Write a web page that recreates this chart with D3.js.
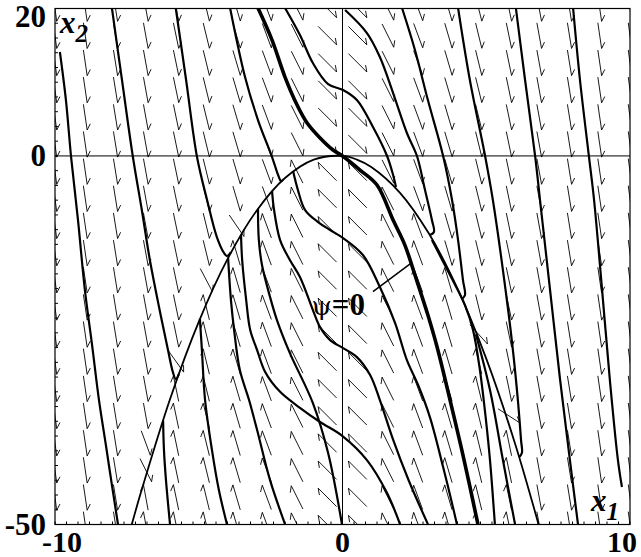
<!DOCTYPE html>
<meta charset="utf-8">
<style>
    body { margin: 0; background: #fff; }
    text { font-family: "Liberation Serif", "DejaVu Serif", serif; fill: #000; }
</style>
<svg width="641" height="557"></svg>
<script src="https://d3js.org/d3.v7.min.js"></script>
<script>
    // axis ranges and labels
    var x1Domain = [-10, 10];
    var x2Domain = [-50, 20];
    var x1Labels = [-10, 0, 10];
    var x2Labels = [20, 0, -50];

    // psi = 0 curve
    var psiCurve = [[-7.33, -50], [-7, -45.5], [-6, -33], [-5, -22.5], [-4, -14], [-3, -7.5], [-2, -3],
        [-1, -0.5], [0, 0], [0.5, -0.5], [1, -1.5], [2, -5], [3, -10.5], [4, -18], [5, -27.5], [6, -39], [6.82, -50]];

    // direction field grid
    var fieldX1 = [-10, -8.947, -7.895, -6.842, -5.789, -4.737, -3.684, -2.632, -1.579, -0.526,
        0.526, 1.579, 2.632, 3.684, 4.737, 5.789, 6.842, 7.895, 8.947, 10];
    var fieldX2 = [-50, -46.32, -42.63, -38.95, -35.26, -31.58, -27.89, -24.21, -20.53, -16.84,
        -13.16, -9.47, -5.79, -2.11, 1.58, 5.26, 8.95, 12.63, 16.32, 20];
    // steepness of the arrows in each column (screen dy/dx)
    var fieldSteep = [7.5, 6.8, 6.2, 5.5, 4.8, 4.1, 3.4, 2.7, 2.0, 1.0, 1.0, 2.0, 2.7, 3.4, 4.1, 4.8, 5.5, 6.2, 6.8, 7.5];
    // arrows next to psi = 0 that turn flatter: [column, row, steepness]
    var fieldFlat = [[3, 2, 2.0], [3, 3, 2.7], [4, 6, 1.4], [5, 9, 1.9], [6, 11, 1.46], [14, 7, 1.1], [15, 4, 0.65]];

    // trajectories above / left / right of psi = 0
    var trajA = [[-9.83, 14.1], [-9.62, 7.58], [-9.44, -0.15], [-9.2, -8.7], [-8.96, -18.2], [-8.71, -25.66],
        [-8.47, -33.12], [-8.23, -39.23], [-8.02, -44.65], [-7.81, -49.95]];
    var trajB = [[-8.02, 20.07], [-7.67, 10.3], [-7.29, -0.15], [-6.98, -7.34], [-6.7, -14.12], [-6.36, -20.91],
        [-6.07, -26.34], [-5.9, -29.33], [-5.8, -30.27], [-5.69, -29.6]];
    var trajC = [[-5.8, 20.07], [-5.44, 10.3], [-5.06, -0.15], [-4.71, -5.98], [-4.37, -11], [-4.12, -13.17],
        [-4.02, -13.58], [-3.88, -13.04]];
    var trajD = [[-3.91, 20.07], [-3.39, 10.7], [-2.94, 4.87], [-2.45, -0.15], [-2.24, -2.59], [-2.14, -3.41], [-2.07, -3.27]];
    var trajE = [[-2, 20.07], [-1.48, 16.4], [-1.03, 12.6], [-0.5, 9.75], [0.02, 8.94], [0.5, 7.58], [1.06, 3.92],
        [1.55, -0.01], [1.76, -2.59], [1.86, -4.2]];
    var trajF = [[0.09, 19.79], [0.85, 16.67], [1.3, 13.42], [1.76, 8.53], [2.24, 3.11], [2.59, -0.01], [2.87, -4.63],
        [3.11, -8.7], [3.18, -10.32], [3.04, -10.73]];
    var trajG = [[2.07, 20.07], [2.52, 14.37], [2.97, 7.58], [3.5, -0.01], [3.81, -5.98], [4.02, -11.41], [4.19, -16.84],
        [4.26, -18.87], [4.16, -19.41]];
    var trajH = [[4.02, 20.07], [4.43, 10.3], [4.96, -0.01], [5.23, -5.98], [5.58, -15.48], [5.9, -25.39], [6.1, -33.12],
        [6.21, -38.55], [6.24, -40.31], [6.14, -40.86]];
    var trajI = [[6.03, 20.07], [6.35, 10.3], [6.7, -0.01], [6.87, -5.98], [7.22, -18.2], [7.57, -30.41], [7.91, -41.26], [8.19, -49.95]];
    var trajJ = [[8.02, 20.07], [8.26, 10.3], [8.57, -0.01], [8.75, -5.98], [9.03, -18.2], [9.3, -30.41], [9.58, -41.26], [9.72, -44.92]];

    // trajectories inside psi = 0
    var in1 = [[-6.24, -35.9], [-6.21, -39.91], [-6.14, -43.98], [-6, -49.95]];
    var in2 = [[-4.96, -22.1], [-4.89, -26.34], [-4.78, -33.12], [-4.54, -39.91], [-4.3, -45.33], [-4.02, -49.95]];
    var in3 = [[-3.98, -13.8], [-3.88, -19.55], [-3.77, -23.62], [-3.57, -29.05], [-3.25, -33.12], [-2.97, -37.19],
        [-2.52, -43.98], [-2, -49.95]];
    var in4 = [[-3.53, -10.7], [-3.49, -14.12], [-3.35, -19.55], [-3.21, -23.62], [-2.97, -26.34], [-2.69, -29.3],
        [-2.17, -32.0], [-1.48, -34.17], [-0.78, -36.1], [0, -38], [0.85, -41.26], [1.55, -45.74], [2, -49.95]];
    var in5 = [[-2.94, -7.17], [-2.91, -11.41], [-2.8, -14.8], [-2.52, -19.14], [-2.28, -22.26], [-1.83, -26.75],
        [-1.03, -33.53], [-0.5, -40.31], [-0.02, -49.95]];
    var in6 = [[-2.45, -4.78], [-2.38, -7.34], [-2.17, -11.41], [-1.83, -14.12], [-1.48, -16.43], [-1.03, -20.91],
        [-0.78, -23.22], [-0.43, -24.98], [0.02, -26.07], [0.5, -27.29], [0.96, -29.73], [1.3, -33.12], [1.76, -38.5],
        [2.3, -44], [2.97, -49.95]];
    var in7 = [[-1.72, -2.05], [-1.55, -4.63], [-1.3, -7.34], [-0.85, -8.97], [-0.43, -10.05], [0.02, -11.14],
        [0.71, -13.44], [1.3, -17.79], [1.83, -22.67], [2.24, -27.7], [2.63, -31.08], [3.04, -35.43], [3.5, -42.21],
        [3.74, -45.99], [3.98, -49.95]];
    var in8 = [[3.11, -11.41], [3.74, -16.16], [4.26, -20.23], [4.54, -23.62], [4.78, -29.05], [4.99, -35.84],
        [5.13, -41.26], [5.3, -49.95]];
    var in9 = [[4.64, -24.2], [5.13, -31.76], [5.58, -41.26], [6.0, -49.95]];

    // the heavy one through the origin
    var trajMain = [[-2.94, 20.07], [-2.45, 15.72], [-2, 10.7], [-1.58, 6.91], [-1.23, 4.46], [-0.78, 2.43],
        [-0.33, 0.8], [0, 0], [0.61, -1.91], [1.2, -3.94], [1.76, -8.7], [2.17, -12.09], [2.52, -16.16],
        [2.97, -21.59], [3.29, -25.93], [3.74, -33.12], [4.19, -40.58], [4.71, -49.95]];

    var trajectories = [trajA, trajB, trajC, trajD, trajE, trajF, trajG, trajH, trajI, trajJ,
        in1, in2, in3, in4, in5, in6, in7, in8, in9];

    var psiLabel = {at: [-1.08, -21.6], from: [1.06, -18.4], to: [2.4, -14.5]};

    var svg = d3.select("svg");
    var x = d3.scaleLinear().domain(x1Domain).range([55, 630]);
    var y = d3.scaleLinear().domain(x2Domain).range([524.5, 8.5]);

    svg.append("defs").append("clipPath").attr("id", "box")
        .append("rect")
        .attr("x", x(-10)).attr("y", y(20))
        .attr("width", x(10) - x(-10)).attr("height", y(-50) - y(20));

    var plot = svg.append("g").attr("clip-path", "url(#box)");

    // axes through the origin
    plot.append("line").attr("x1", x(-10)).attr("x2", x(10)).attr("y1", y(0)).attr("y2", y(0))
        .attr("stroke", "#000").attr("stroke-width", 1);
    plot.append("line").attr("x1", x(0)).attr("x2", x(0)).attr("y1", y(-50)).attr("y2", y(20))
        .attr("stroke", "#000").attr("stroke-width", 1);

    // which side of psi = 0
    var psiAt = d3.scaleLinear().domain(psiCurve.map(function (d) { return d[0]; }))
        .range(psiCurve.map(function (d) { return d[1]; }));

    var arrows = [];
    fieldX2.forEach(function (v2, j) {
        fieldX1.forEach(function (v1, i) {
            var steep = fieldSteep[i];
            fieldFlat.forEach(function (f) { if (f[0] == i && f[1] == j) steep = f[2]; });
            var sgn = v2 >= psiAt(v1) ? 1 : -1;
            var n = Math.hypot(1, steep);
            arrows.push({cx: x(v1), cy: y(v2), dx: sgn / n, dy: sgn * steep / n});
        });
    });

    var half = 13, barb = 7, ang = 35 * Math.PI / 180;
    plot.append("g")
        .selectAll("path")
        .data(arrows)
        .enter().append("path")
        .attr("fill", "none")
        .attr("stroke", "#000")
        .attr("stroke-width", 0.9)
        .attr("d", function (a) {
            var tx = a.cx + a.dx * half, ty = a.cy + a.dy * half;
            var bx = -a.dx * Math.cos(ang) + a.dy * Math.sin(ang);
            var by = -a.dx * Math.sin(ang) - a.dy * Math.cos(ang);
            return "M" + (a.cx - a.dx * half) + "," + (a.cy - a.dy * half) +
                "L" + tx + "," + ty + "L" + (tx + bx * barb) + "," + (ty + by * barb);
        });

    var line = d3.line()
        .x(function (d) { return x(d[0]); })
        .y(function (d) { return y(d[1]); })
        .curve(d3.curveCatmullRom.alpha(0.5));

    plot.append("path").datum(psiCurve)
        .attr("fill", "none").attr("stroke", "#000").attr("stroke-width", 1.8)
        .attr("d", line);

    plot.append("g")
        .selectAll("path")
        .data(trajectories)
        .enter().append("path")
        .attr("fill", "none")
        .attr("stroke", "#000")
        .attr("stroke-width", 2.2)
        .attr("d", line);

    plot.append("path").datum(trajMain)
        .attr("fill", "none").attr("stroke", "#000").attr("stroke-width", 3.6)
        .attr("d", line);

    // label for psi = 0
    plot.append("line")
        .attr("x1", x(psiLabel.from[0])).attr("y1", y(psiLabel.from[1]))
        .attr("x2", x(psiLabel.to[0])).attr("y2", y(psiLabel.to[1]))
        .attr("stroke", "#000").attr("stroke-width", 1.5);
    var pl = plot.append("text")
        .attr("x", x(psiLabel.at[0])).attr("y", y(psiLabel.at[1]));
    pl.append("tspan").attr("font-family", "DejaVu Serif").attr("font-size", 26).text("\u03c8");
    pl.append("tspan").attr("font-weight", "bold").attr("font-size", 31).text("=0");

    // frame and ticks
    svg.append("rect")
        .attr("x", x(-10)).attr("y", y(20))
        .attr("width", x(10) - x(-10)).attr("height", y(-50) - y(20))
        .attr("fill", "none").attr("stroke", "#000").attr("stroke-width", 1.2);

    svg.append("g").selectAll("line")
        .data(d3.range(-50, 20.01, 2))
        .enter().append("line")
        .attr("x1", x(-10)).attr("x2", x(-10) + 3)
        .attr("y1", function (d) { return y(d); }).attr("y2", function (d) { return y(d); })
        .attr("stroke", "#000");

    svg.append("g").selectAll("line")
        .data(d3.range(-10, 10.01, 0.4))
        .enter().append("line")
        .attr("y1", y(-50)).attr("y2", y(-50) - 3)
        .attr("x1", function (d) { return x(d); }).attr("x2", function (d) { return x(d); })
        .attr("stroke", "#000");

    svg.append("g").selectAll("text")
        .data(x2Labels)
        .enter().append("text")
        .attr("x", 46)
        .attr("y", function (d) { return Math.max(y(d) + 10, 27); })
        .attr("text-anchor", "end")
        .attr("font-size", 31)
        .attr("font-weight", "bold")
        .text(function (d) { return d; });

    svg.append("g").selectAll("text")
        .data(x1Labels)
        .enter().append("text")
        .attr("x", function (d) { return Math.min(Math.max(x(d), 62), 622); })
        .attr("y", 552)
        .attr("text-anchor", "middle")
        .attr("font-size", 30)
        .attr("font-weight", "bold")
        .text(function (d) { return d; });

    var t2 = svg.append("text").attr("x", 60).attr("y", 33)
        .attr("font-size", 31).attr("font-weight", "bold").attr("font-style", "italic")
        .text("x");
    t2.append("tspan").attr("font-size", 25).attr("dy", 9).text("2");

    var t1 = svg.append("text").attr("x", 591).attr("y", 511)
        .attr("font-size", 31).attr("font-weight", "bold").attr("font-style", "italic")
        .text("x");
    t1.append("tspan").attr("font-size", 25).attr("dy", 9).text("1");
</script>
